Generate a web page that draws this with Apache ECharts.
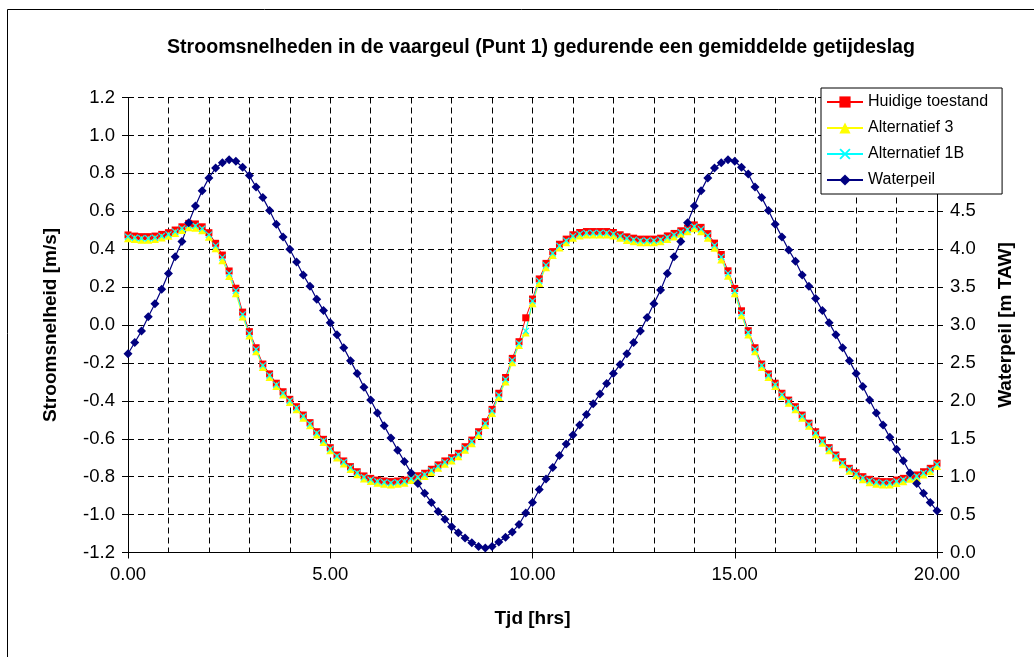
<!DOCTYPE html>
<html>
<head>
<meta charset="utf-8">
<script src="https://cdn.jsdelivr.net/npm/echarts@6/dist/echarts.min.js"></script>
<style>html,body{margin:0;padding:0;background:#fff;}#c{width:1034px;height:657px;}</style>
</head>
<body>
<div id="c"></div>
<script>
// time in minutes (10-minute steps)
var tijdMin = [0,10,20,30,40,50,60,70,80,90,100,110,120,130,140,150,160,170,180,190,200,210,220,230,240,250,260,270,280,290,300,310,320,330,340,350,360,370,380,390,400,410,420,430,440,450,460,470,480,490,500,510,520,530,540,550,560,570,580,590,600,610,620,630,640,650,660,670,680,690,700,710,720,730,740,750,760,770,780,790,800,810,820,830,840,850,860,870,880,890,900,910,920,930,940,950,960,970,980,990,1000,1010,1020,1030,1040,1050,1060,1070,1080,1090,1100,1110,1120,1130,1140,1150,1160,1170,1180,1190,1200];

var huidigeToestand = [0.475,0.469,0.466,0.466,0.469,0.478,0.487,0.501,0.518,0.536,0.533,0.518,0.487,0.431,0.369,0.285,0.194,0.068,-0.035,-0.120,-0.206,-0.258,-0.307,-0.352,-0.392,-0.431,-0.475,-0.515,-0.563,-0.603,-0.647,-0.686,-0.717,-0.747,-0.774,-0.796,-0.809,-0.818,-0.823,-0.826,-0.823,-0.818,-0.803,-0.795,-0.782,-0.761,-0.738,-0.717,-0.700,-0.677,-0.642,-0.607,-0.563,-0.510,-0.445,-0.360,-0.277,-0.176,-0.088,0.038,0.137,0.243,0.325,0.387,0.426,0.453,0.476,0.488,0.493,0.493,0.493,0.493,0.488,0.476,0.465,0.458,0.453,0.453,0.453,0.458,0.470,0.483,0.497,0.511,0.528,0.515,0.482,0.432,0.372,0.286,0.193,0.075,-0.030,-0.120,-0.206,-0.258,-0.307,-0.360,-0.396,-0.431,-0.475,-0.518,-0.563,-0.607,-0.647,-0.686,-0.721,-0.756,-0.779,-0.800,-0.814,-0.823,-0.826,-0.826,-0.818,-0.809,-0.796,-0.791,-0.774,-0.756,-0.729];

var alternatief3 = [0.458,0.453,0.450,0.450,0.453,0.462,0.471,0.485,0.501,0.516,0.513,0.500,0.465,0.405,0.342,0.258,0.168,0.045,-0.055,-0.138,-0.222,-0.274,-0.322,-0.367,-0.406,-0.445,-0.489,-0.529,-0.577,-0.617,-0.660,-0.699,-0.730,-0.760,-0.787,-0.810,-0.823,-0.832,-0.838,-0.841,-0.838,-0.832,-0.818,-0.810,-0.797,-0.776,-0.753,-0.732,-0.715,-0.692,-0.658,-0.624,-0.580,-0.528,-0.464,-0.380,-0.298,-0.196,-0.106,-0.040,0.115,0.222,0.305,0.369,0.409,0.437,0.460,0.472,0.477,0.477,0.477,0.477,0.472,0.460,0.449,0.442,0.437,0.437,0.437,0.442,0.454,0.467,0.481,0.495,0.510,0.495,0.460,0.408,0.346,0.260,0.167,0.052,-0.050,-0.138,-0.222,-0.274,-0.322,-0.375,-0.410,-0.445,-0.489,-0.532,-0.577,-0.621,-0.660,-0.699,-0.734,-0.769,-0.792,-0.814,-0.829,-0.838,-0.841,-0.841,-0.833,-0.824,-0.811,-0.806,-0.789,-0.771,-0.744];

var alternatief1B = [0.466,0.460,0.457,0.457,0.460,0.469,0.478,0.492,0.509,0.526,0.523,0.508,0.476,0.418,0.356,0.272,0.181,0.056,-0.045,-0.129,-0.214,-0.266,-0.315,-0.360,-0.399,-0.438,-0.482,-0.522,-0.570,-0.610,-0.654,-0.692,-0.723,-0.753,-0.780,-0.803,-0.816,-0.825,-0.830,-0.833,-0.830,-0.825,-0.810,-0.802,-0.789,-0.768,-0.745,-0.724,-0.707,-0.684,-0.650,-0.615,-0.571,-0.519,-0.454,-0.370,-0.287,-0.186,-0.097,-0.032,0.126,0.232,0.315,0.378,0.417,0.445,0.468,0.480,0.485,0.485,0.485,0.485,0.480,0.468,0.457,0.450,0.445,0.445,0.445,0.450,0.462,0.475,0.489,0.503,0.519,0.505,0.471,0.420,0.359,0.273,0.180,0.063,-0.040,-0.129,-0.214,-0.266,-0.315,-0.368,-0.403,-0.438,-0.482,-0.525,-0.570,-0.614,-0.654,-0.692,-0.728,-0.762,-0.786,-0.807,-0.821,-0.830,-0.833,-0.833,-0.825,-0.816,-0.803,-0.798,-0.781,-0.763,-0.736];

var waterpeil = [2.62,2.77,2.92,3.11,3.28,3.47,3.68,3.90,4.10,4.35,4.57,4.77,4.94,5.07,5.14,5.18,5.16,5.08,4.97,4.82,4.68,4.51,4.33,4.16,4.00,3.83,3.66,3.51,3.34,3.19,3.03,2.87,2.70,2.53,2.36,2.18,2.01,1.84,1.67,1.51,1.35,1.20,1.05,0.91,0.78,0.66,0.54,0.44,0.34,0.26,0.19,0.13,0.08,0.06,0.08,0.14,0.20,0.27,0.37,0.52,0.66,0.83,0.97,1.12,1.28,1.43,1.55,1.68,1.82,1.96,2.09,2.23,2.36,2.48,2.62,2.77,2.92,3.10,3.28,3.46,3.68,3.90,4.10,4.35,4.57,4.77,4.94,5.07,5.14,5.18,5.16,5.08,4.99,4.82,4.68,4.51,4.33,4.16,3.99,3.84,3.66,3.51,3.35,3.19,3.03,2.87,2.70,2.53,2.36,2.19,2.01,1.84,1.68,1.52,1.36,1.21,1.05,0.91,0.78,0.66,0.55];

var seriesNames = ['Huidige toestand','Alternatief 3','Alternatief 1B','Waterpeil'];
var titleText = 'Stroomsnelheden in de vaargeul (Punt 1) gedurende een gemiddelde getijdeslag';

function pairs(vals){ return vals.map(function(v,i){ return [tijdMin[i]/60, v]; }); }

var FONT = '"Liberation Sans", Arial, sans-serif';
var gridDash = {color:'#000', width:1, type:[6,4]};
var xSymbol = 'path://M0,1.2 L1.2,0 L5,3.8 L8.8,0 L10,1.2 L6.2,5 L10,8.8 L8.8,10 L5,6.2 L1.2,10 L0,8.8 L3.8,5 Z';

var chart = echarts.init(document.getElementById('c'), null, {renderer:'canvas'});
chart.setOption({
  animation:false,
  backgroundColor:'#fff',
  textStyle:{fontFamily:FONT},
  title:{text:titleText, left:536, top:33, textAlign:'center',
    textStyle:{fontFamily:FONT, fontSize:19.6, fontWeight:'bold', color:'#000'}},
  graphic:[{type:'rect', shape:{x:7.5,y:9.5,width:1100,height:700}, style:{fill:'none', stroke:'#000', lineWidth:1}, silent:true}],
  legend:{
    orient:'vertical', left:821, top:88,
    itemWidth:36, itemHeight:14, itemGap:10,
    padding:[6,14,6,5],
    backgroundColor:'#fff', borderColor:'#000', borderWidth:1, borderRadius:0,
    textStyle:{fontFamily:FONT, fontSize:16, color:'#000', lineHeight:14},
    data:seriesNames
  },
  grid:{left:128, right:97, top:97.5, bottom:104.5, containLabel:false},
  xAxis:{
    type:'value', min:0, max:20, interval:5,
    name:'Tjd [hrs]', nameLocation:'middle', nameGap:57,
    nameTextStyle:{fontFamily:FONT, fontSize:19, fontWeight:'bold', color:'#000'},
    axisLine:{show:true, onZero:false, lineStyle:{color:'#000', width:1}},
    axisTick:{show:true, inside:false, length:6, lineStyle:{color:'#000'}},
    minorTick:{show:false, splitNumber:5},
    axisLabel:{fontFamily:FONT, fontSize:18.5, color:'#000', margin:13, formatter:function(v){return v.toFixed(2);}},
    splitLine:{show:true, lineStyle:gridDash},
    minorSplitLine:{show:true, lineStyle:gridDash}
  },
  yAxis:[{
    type:'value', min:-1.2, max:1.2, interval:0.2, position:'left',
    name:'Stroomsnelheid [m/s]', nameLocation:'middle', nameGap:68, nameRotate:90,
    nameTextStyle:{fontFamily:FONT, fontSize:19, fontWeight:'bold', color:'#000'},
    axisLine:{show:true, onZero:false, lineStyle:{color:'#000', width:1}},
    axisTick:{show:true, inside:false, length:6, lineStyle:{color:'#000'}},
    axisLabel:{fontFamily:FONT, fontSize:18.5, color:'#000', margin:13, formatter:function(v){return v.toFixed(1);}},
    splitLine:{show:true, lineStyle:gridDash}
  },{
    type:'value', min:0, max:6, interval:0.5, position:'right',
    name:'Waterpeil [m TAW]', nameLocation:'middle', nameGap:59, nameRotate:90,
    nameTextStyle:{fontFamily:FONT, fontSize:19, fontWeight:'bold', color:'#000'},
    axisLine:{show:true, onZero:false, lineStyle:{color:'#000', width:1}},
    axisTick:{show:true, inside:false, length:6, lineStyle:{color:'#000'}},
    axisLabel:{fontFamily:FONT, fontSize:18.5, color:'#000', margin:13, formatter:function(v){return v.toFixed(1);}},
    splitLine:{show:false}
  }],
  series:[
    {name:seriesNames[0], type:'line', yAxisIndex:0, data:pairs(huidigeToestand),
      symbol:'rect', symbolSize:7, showAllSymbol:true,
      lineStyle:{color:'#FF0000', width:1}, itemStyle:{color:'#FF0000'}},
    {name:seriesNames[1], type:'line', yAxisIndex:0, data:pairs(alternatief3),
      symbol:'triangle', symbolSize:8, showAllSymbol:true,
      lineStyle:{color:'#FFFF00', width:1}, itemStyle:{color:'#FFFF00'}},
    {name:seriesNames[2], type:'line', yAxisIndex:0, data:pairs(alternatief1B),
      symbol:xSymbol, symbolSize:7, showAllSymbol:true,
      lineStyle:{color:'#00FFFF', width:1}, itemStyle:{color:'#00FFFF'}},
    {name:seriesNames[3], type:'line', yAxisIndex:1, data:pairs(waterpeil),
      symbol:'diamond', symbolSize:9, showAllSymbol:true,
      lineStyle:{color:'#000080', width:1.2}, itemStyle:{color:'#000080'}}
  ]
});
</script>
</body>
</html>
